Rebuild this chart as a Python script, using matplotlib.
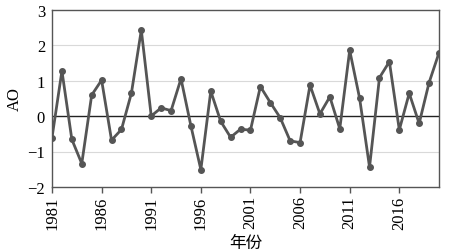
import numpy as np
import matplotlib.pyplot as plt

years = np.arange(1981, 2021)
ao = [-0.61, 1.27, -0.66, -1.34, 0.59, 1.01, -0.68, -0.38, 0.64, 2.42,
      0.00, 0.23, 0.15, 1.05, -0.28, -1.51, 0.70, -0.15, -0.60, -0.37,
      -0.40, 0.83, 0.38, -0.05, -0.70, -0.75, 0.87, 0.06, 0.54, -0.36,
      1.85, 0.50, -1.44, 1.08, 1.53, -0.39, 0.64, -0.21, 0.94, 1.78]
xticks = list(range(1981, 2017, 5))
yticks = [-2, -1, 0, 1, 2, 3]

plt.rcParams['font.family'] = ['Liberation Serif', 'Noto Sans CJK SC']
plt.rcParams['font.size'] = 12

fig = plt.figure(figsize=(4.61, 2.53), dpi=100)
ax = fig.add_axes([52 / 461, 1 - 188 / 253, (439 - 52) / 461, (188 - 10.5) / 253])

for v in [-1, 1, 2]:
    ax.axhline(v, color='#d9d9d9', linewidth=0.8, zorder=0)
ax.axhline(0, color='#222222', linewidth=1.0, zorder=1)

ax.plot(years, ao, color='#555555', linewidth=2, marker='o', markersize=4, zorder=2)

ax.set_xlim(1981, 2020)
ax.set_ylim(-2, 3)
ax.set_xticks(xticks)
ax.set_xticklabels([str(y) for y in xticks], rotation=90)
ax.set_yticks(yticks)
ax.set_yticklabels(['\u22122', '\u22121', '0', '1', '2', '3'])
ax.tick_params(axis='y', length=0, pad=5)
ax.tick_params(axis='x', length=4, width=1, color='#555555', pad=2)

for s in ax.spines.values():
    s.set_color('#555555')
    s.set_linewidth(1)

ax.set_ylabel('AO', labelpad=3)
ax.set_xlabel('年份', family=['Noto Sans CJK SC'], fontsize=12, labelpad=4)

fig.savefig('out.png', dpi=100)
